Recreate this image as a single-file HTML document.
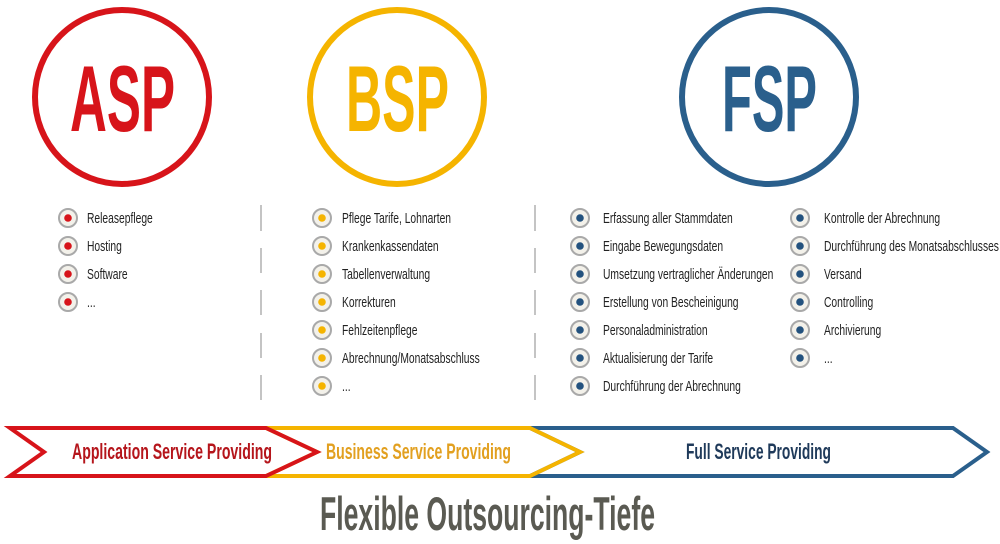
<!DOCTYPE html>
<html><head><meta charset="utf-8"><style>
html,body{margin:0;padding:0;background:#fff;width:1000px;height:544px;overflow:hidden}
svg{display:block}
text{font-family:"Liberation Sans Narrow","Liberation Sans",sans-serif}
</style></head><body>
<svg width="1000" height="544" viewBox="0 0 1000 544" xmlns="http://www.w3.org/2000/svg">
<defs>
<g id="b"><circle r="9" fill="#f3f1ea" stroke="#a9a9a9" stroke-width="2"/></g>
</defs>
<circle cx="122" cy="97" r="87" fill="none" stroke="#d7141a" stroke-width="6"/>
<circle cx="397" cy="97" r="87" fill="none" stroke="#f5b400" stroke-width="6"/>
<circle cx="769" cy="97" r="87" fill="none" stroke="#2a5f8c" stroke-width="6"/>
<text x="70" y="131" font-size="94" font-weight="bold" fill="#d7141a" textLength="105" lengthAdjust="spacingAndGlyphs">ASP</text>
<text x="346" y="131" font-size="94" font-weight="bold" fill="#f5b400" textLength="103" lengthAdjust="spacingAndGlyphs">BSP</text>
<text x="722" y="131" font-size="94" font-weight="bold" fill="#2a5f8c" textLength="95" lengthAdjust="spacingAndGlyphs">FSP</text>
<g stroke="#c4c4c4" stroke-width="2">
<line x1="261" y1="205" x2="261" y2="231"/><line x1="261" y1="248" x2="261" y2="273"/><line x1="261" y1="290" x2="261" y2="315"/><line x1="261" y1="333" x2="261" y2="358"/><line x1="261" y1="375" x2="261" y2="400"/>
<line x1="535" y1="205" x2="535" y2="231"/><line x1="535" y1="248" x2="535" y2="273"/><line x1="535" y1="290" x2="535" y2="315"/><line x1="535" y1="333" x2="535" y2="358"/><line x1="535" y1="375" x2="535" y2="400"/>
</g>
<g fill="#d7141a">
<use href="#b" x="68" y="218"/><circle cx="68" cy="218" r="3.8"/>
<use href="#b" x="68" y="246"/><circle cx="68" cy="246" r="3.8"/>
<use href="#b" x="68" y="274"/><circle cx="68" cy="274" r="3.8"/>
<use href="#b" x="68" y="302"/><circle cx="68" cy="302" r="3.8"/>
</g>
<g fill="#f5b400">
<use href="#b" x="322" y="218"/><circle cx="322" cy="218" r="3.8"/>
<use href="#b" x="322" y="246"/><circle cx="322" cy="246" r="3.8"/>
<use href="#b" x="322" y="274"/><circle cx="322" cy="274" r="3.8"/>
<use href="#b" x="322" y="302"/><circle cx="322" cy="302" r="3.8"/>
<use href="#b" x="322" y="330"/><circle cx="322" cy="330" r="3.8"/>
<use href="#b" x="322" y="358"/><circle cx="322" cy="358" r="3.8"/>
<use href="#b" x="322" y="386"/><circle cx="322" cy="386" r="3.8"/>
</g>
<g fill="#24527e">
<use href="#b" x="580" y="218"/><circle cx="580" cy="218" r="3.8"/>
<use href="#b" x="580" y="246"/><circle cx="580" cy="246" r="3.8"/>
<use href="#b" x="580" y="274"/><circle cx="580" cy="274" r="3.8"/>
<use href="#b" x="580" y="302"/><circle cx="580" cy="302" r="3.8"/>
<use href="#b" x="580" y="330"/><circle cx="580" cy="330" r="3.8"/>
<use href="#b" x="580" y="358"/><circle cx="580" cy="358" r="3.8"/>
<use href="#b" x="580" y="386"/><circle cx="580" cy="386" r="3.8"/>
<use href="#b" x="800" y="218"/><circle cx="800" cy="218" r="3.8"/>
<use href="#b" x="800" y="246"/><circle cx="800" cy="246" r="3.8"/>
<use href="#b" x="800" y="274"/><circle cx="800" cy="274" r="3.8"/>
<use href="#b" x="800" y="302"/><circle cx="800" cy="302" r="3.8"/>
<use href="#b" x="800" y="330"/><circle cx="800" cy="330" r="3.8"/>
<use href="#b" x="800" y="358"/><circle cx="800" cy="358" r="3.8"/>
</g>
<g font-size="14.5" fill="#222">
<g transform="translate(87,0) scale(0.71,1)">
<text x="0" y="223">Releasepflege</text><text x="0" y="251">Hosting</text><text x="0" y="279">Software</text><text x="0" y="307">...</text>
</g>
<g transform="translate(342,0) scale(0.71,1)">
<text x="0" y="223">Pflege Tarife, Lohnarten</text><text x="0" y="251">Krankenkassendaten</text><text x="0" y="279">Tabellenverwaltung</text><text x="0" y="307">Korrekturen</text><text x="0" y="335">Fehlzeitenpflege</text><text x="0" y="363">Abrechnung/Monatsabschluss</text><text x="0" y="391">...</text>
</g>
<g transform="translate(603,0) scale(0.71,1)">
<text x="0" y="223">Erfassung aller Stammdaten</text><text x="0" y="251">Eingabe Bewegungsdaten</text><text x="0" y="279">Umsetzung vertraglicher Änderungen</text><text x="0" y="307">Erstellung von Bescheinigung</text><text x="0" y="335">Personaladministration</text><text x="0" y="363">Aktualisierung der Tarife</text><text x="0" y="391">Durchführung der Abrechnung</text>
</g>
<g transform="translate(824,0) scale(0.71,1)">
<text x="0" y="223">Kontrolle der Abrechnung</text><text x="0" y="251">Durchführung des Monatsabschlusses</text><text x="0" y="279">Versand</text><text x="0" y="307">Controlling</text><text x="0" y="335">Archivierung</text><text x="0" y="363">...</text>
</g>
</g>
<g fill="none" stroke-width="4" stroke-linejoin="miter">
<polygon points="530,428 953,428 987,452 953,476 530,476 580,452" stroke="#2a5f8c"/>
<polygon points="266,428 530,428 580,452 530,476 266,476 317,452" stroke="#f5b400"/>
<polygon points="10,428 266,428 317,452 266,476 10,476 44,452" stroke="#d7141a"/>
</g>
<g font-size="22" font-weight="bold">
<text x="72" y="459" fill="#b5151b" textLength="200" lengthAdjust="spacingAndGlyphs">Application Service Providing</text>
<text x="326" y="459" fill="#e2a020" textLength="185" lengthAdjust="spacingAndGlyphs">Business Service Providing</text>
<text x="686" y="459" fill="#1f3a5a" textLength="145" lengthAdjust="spacingAndGlyphs">Full Service Providing</text>
</g>
<text x="320" y="530" font-size="47" font-weight="bold" fill="#5a5a52" textLength="335" lengthAdjust="spacingAndGlyphs">Flexible Outsourcing-Tiefe</text>
</svg>
</body></html>
